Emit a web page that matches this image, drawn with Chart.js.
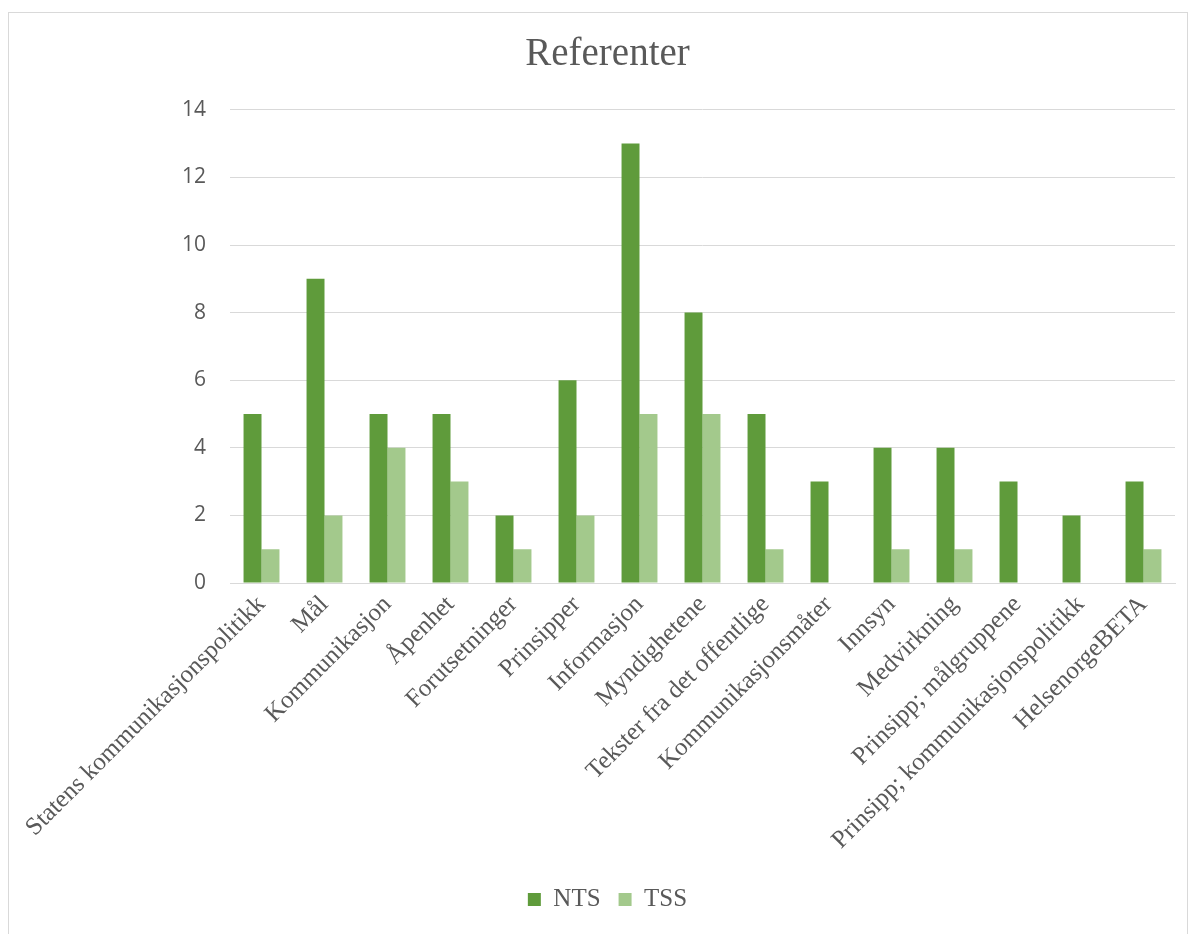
<!DOCTYPE html>
<html>
<head>
<meta charset="utf-8">
<script src="https://cdn.jsdelivr.net/npm/chart.js@4.4.1/dist/chart.umd.min.js"></script>
<style>
  html, body { margin: 0; padding: 0; background: #fff; }
  #frame { position: absolute; left: 8px; top: 12px; width: 1180px; height: 930px; border: 1px solid #d9d9d9; box-sizing: border-box; }
  #wrap { position: absolute; left: 0; top: 0; width: 1191px; height: 934px; }
</style>
</head>
<body>
<div id="frame"></div>
<div id="wrap"><canvas id="chart"></canvas></div>
<script>
// --- Data ---
const categories = [
    'Statens kommunikasjonspolitikk', 'Mål', 'Kommunikasjon', 'Åpenhet', 'Forutsetninger',
    'Prinsipper', 'Informasjon', 'Myndighetene', 'Tekster fra det offentlige', 'Kommunikasjonsmåter',
    'Innsyn', 'Medvirkning', 'Prinsipp; målgruppene', 'Prinsipp; kommunikasjonspolitikk', 'HelsenorgeBETA'
];
const ntsValues = [5, 9, 5, 5, 2, 6, 13, 8, 5, 3, 4, 4, 3, 2, 3];
const tssValues = [1, 2, 4, 3, 1, 2, 5, 5, 1, 0, 1, 1, 0, 0, 1];
const yTicks = [0, 2, 4, 6, 8, 10, 12, 14];

const serif = '"Liberation Serif", "Times New Roman", serif';
const sans = '"Open Sans", "Liberation Sans", sans-serif';

const ctx = document.getElementById('chart').getContext('2d');
new Chart(ctx, {
    type: 'bar',
    data: {
        labels: categories,
        datasets: [
            { label: 'NTS', data: ntsValues, backgroundColor: '#5f9b3b', barPercentage: 1, categoryPercentage: 0.57 },
            { label: 'TSS', data: tssValues, backgroundColor: '#a3c98c', barPercentage: 1, categoryPercentage: 0.57 }
        ]
    },
    options: {
        responsive: true,
        maintainAspectRatio: false,
        animation: false,
        layout: { padding: { top: 18, right: 16, bottom: 12, left: 40 } },
        plugins: {
            title: {
                display: true,
                text: 'Referenter',
                color: '#595959',
                font: { family: serif, size: 39, weight: 'normal' },
                padding: { top: 13, bottom: 32 }
            },
            legend: {
                position: 'bottom',
                labels: {
                    color: '#595959',
                    font: { family: serif, size: 25 },
                    boxWidth: 13,
                    boxHeight: 13,
                    padding: 18
                }
            },
            tooltip: { enabled: false }
        },
        scales: {
            x: {
                afterFit: (axis) => { axis.height = 286; },
                grid: { display: false, drawTicks: false },
                border: { display: true, color: '#d9d9d9' },
                ticks: {
                    color: '#595959',
                    font: { family: serif, size: 25 },
                    minRotation: 45,
                    maxRotation: 45,
                    autoSkip: false,
                    padding: 7
                }
            },
            y: {
                min: 0,
                max: 14,
                afterBuildTicks: (axis) => { axis.ticks = yTicks.map(v => ({ value: v })); },
                afterFit: (axis) => { axis.width = 190; },
                grid: { color: '#d9d9d9', drawTicks: false },
                border: { display: false },
                ticks: {
                    color: '#595959',
                    font: { family: sans, size: 21 },
                    padding: 24
                }
            }
        }
    }
});
</script>
</body>
</html>
